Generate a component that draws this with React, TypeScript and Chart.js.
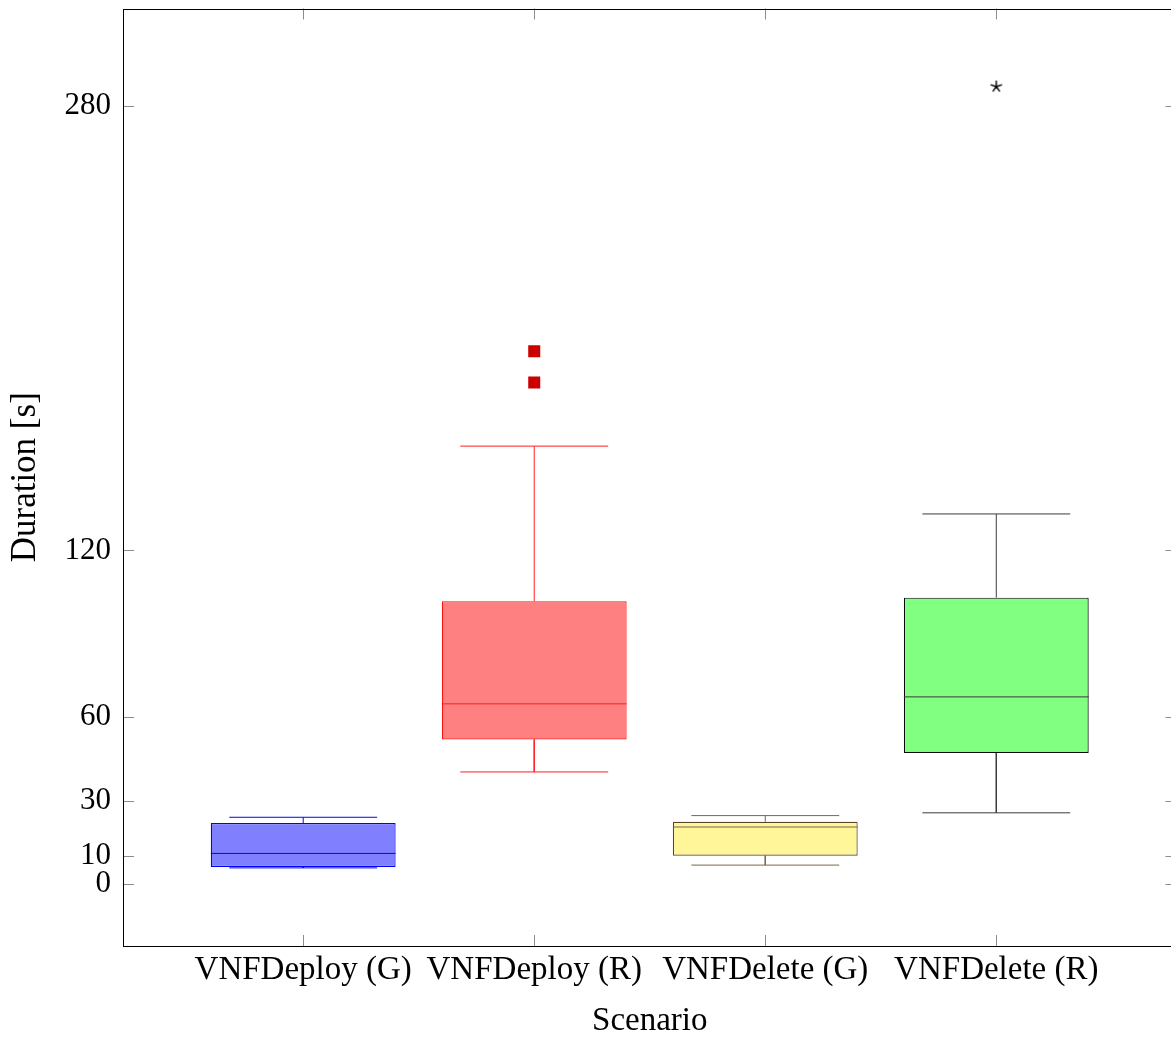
import React, { useEffect, useRef } from "react";
import { Chart, registerables } from "chart.js";

Chart.register(...registerables);

// ---- data ----
const categories = ["VNFDeploy (G)", "VNFDeploy (R)", "VNFDelete (G)", "VNFDelete (R)"];
const positions = [1, 2, 3, 4];
const lowerWhisker = [5.8, 40.3, 6.8, 25.6];
const lowerQuartile = [6.1, 52.0, 10.2, 47.1];
const median = [11.0, 64.8, 20.5, 67.3];
const upperQuartile = [21.9, 101.7, 22.4, 103.0];
const upperWhisker = [24.0, 157.5, 24.6, 133.1];
const outliersDeployR = [191.6, 180.4]; // at position 2
const outliersDeleteR = [286.8]; // at position 4
const yTicks = [0, 10, 30, 60, 120, 280];
const yMin = -22.3;
const yMax = 314.9;
const xMin = 0.22;
const xMax = 4.78;

// ---- styles ----
const boxFill = ["rgb(128,128,255)", "rgb(255,128,128)", "rgb(255,245,153)", "rgb(128,255,128)"];
const boxStroke = ["rgb(0,0,255)", "rgb(255,20,20)", "rgb(90,70,38)", "rgb(10,10,10)"];
const whiskerStroke = ["rgb(0,0,255)", "rgb(255,30,30)", "rgb(125,102,72)", "rgb(60,60,60)"];
const boxHalf = 0.4;
const capHalf = 0.32;
const FONT = "'Liberation Serif', 'Times New Roman', serif";
const CANVAS_W = 1185;
const CANVAS_H = 1039;

function whiskerData(i: number) {
  const x = positions[i];
  const gap = { x, y: null as any };
  return [
    { x, y: upperQuartile[i] }, { x, y: upperWhisker[i] }, gap,
    { x: x - capHalf, y: upperWhisker[i] }, { x: x + capHalf, y: upperWhisker[i] }, gap,
    { x, y: lowerQuartile[i] }, { x, y: lowerWhisker[i] }, gap,
    { x: x - capHalf, y: lowerWhisker[i] }, { x: x + capHalf, y: lowerWhisker[i] }, gap,
    { x: x - boxHalf, y: median[i] }, { x: x + boxHalf, y: median[i] },
  ];
}

function makeStar() {
  const c = document.createElement("canvas");
  c.width = 16;
  c.height = 16;
  const g = c.getContext("2d")!;
  g.strokeStyle = "#000";
  g.lineWidth = 1.4;
  g.beginPath();
  for (let k = 0; k < 5; k++) {
    const ang = -Math.PI / 2 + (k * 2 * Math.PI) / 5;
    g.moveTo(8, 8);
    g.lineTo(8 + 6 * Math.cos(ang), 8 + 6 * Math.sin(ang));
  }
  g.stroke();
  return c;
}

const framePlugin = {
  id: "pgfFrame",
  afterDatasetsDraw(chart: any) {
    const { ctx, chartArea: a, scales } = chart;
    const xs = scales.x;
    const ys = scales.y;
    const tl = 11;
    ctx.save();
    ctx.strokeStyle = "rgb(140,140,140)";
    ctx.lineWidth = 1;
    ctx.beginPath();
    for (const v of yTicks) {
      const py = Math.round(ys.getPixelForValue(v)) + 0.5;
      ctx.moveTo(a.left, py);
      ctx.lineTo(a.left + tl, py);
      ctx.moveTo(a.right, py);
      ctx.lineTo(a.right - tl, py);
    }
    for (const v of positions) {
      const px = Math.round(xs.getPixelForValue(v)) + 0.5;
      ctx.moveTo(px, a.bottom);
      ctx.lineTo(px, a.bottom - tl);
      ctx.moveTo(px, a.top);
      ctx.lineTo(px, a.top + tl);
    }
    ctx.stroke();
    ctx.strokeStyle = "#000";
    ctx.lineWidth = 1;
    ctx.strokeRect(
      Math.round(a.left) + 0.5,
      Math.round(a.top) + 0.5,
      Math.round(a.right) - Math.round(a.left),
      Math.round(a.bottom) - Math.round(a.top)
    );
    ctx.restore();
  },
};

export default function App() {
  const ref = useRef<HTMLCanvasElement | null>(null);

  useEffect(() => {
    if (!ref.current) return;
    const star = makeStar();
    const datasets: any[] = [];
    positions.forEach((_, i) => {
      datasets.push({
        type: "line",
        data: whiskerData(i),
        borderColor: whiskerStroke[i],
        borderWidth: 1,
        pointRadius: 0,
        spanGaps: false,
        fill: false,
        tension: 0,
        order: 1,
      });
    });
    datasets.push({
      type: "bar",
      data: positions.map((x, i) => ({ x, y: [lowerQuartile[i], upperQuartile[i]] })),
      backgroundColor: boxFill,
      borderColor: boxStroke,
      borderWidth: 1.2,
      borderSkipped: false,
      categoryPercentage: 1,
      barPercentage: 2 * boxHalf,
      order: 2,
    });
    datasets.push({
      type: "scatter",
      data: outliersDeployR.map((y) => ({ x: positions[1], y })),
      pointStyle: "rect",
      pointRadius: 8.5,
      backgroundColor: "rgb(204,0,0)",
      borderColor: "rgb(204,0,0)",
      borderWidth: 0,
      order: 0,
    });
    datasets.push({
      type: "scatter",
      data: outliersDeleteR.map((y) => ({ x: positions[3], y })),
      pointStyle: star,
      pointRadius: 6,
      order: 0,
    });

    const chart = new Chart(ref.current, {
      type: "bar",
      data: { datasets },
      options: {
        animation: false,
        responsive: false,
        maintainAspectRatio: false,
        layout: { padding: { left: 0, right: 0, top: 8, bottom: 0 } },
        plugins: { legend: { display: false }, tooltip: { enabled: false } },
        scales: {
          x: {
            type: "linear",
            min: xMin,
            max: xMax,
            offset: false,
            afterBuildTicks: (s: any) => {
              s.ticks = positions.map((v) => ({ value: v }));
            },
            afterFit: (s: any) => {
              s.height = 93;
              s.paddingLeft = 0;
              s.paddingRight = 0;
              s.paddingTop = 0;
              s.paddingBottom = 0;
            },
            grid: { display: false, drawTicks: false, offset: false },
            border: { display: false },
            ticks: {
              autoSkip: false,
              maxRotation: 0,
              minRotation: 0,
              padding: 5,
              color: "#000",
              font: { family: FONT, size: 33 },
              callback: (_v: any, idx: number) => categories[idx] ?? "",
            },
            title: {
              display: true,
              text: "Scenario",
              color: "#000",
              font: { family: FONT, size: 33 },
              padding: { top: 0, bottom: -2.5 },
            },
          },
          y: {
            type: "linear",
            min: yMin,
            max: yMax,
            afterBuildTicks: (s: any) => {
              s.ticks = yTicks.map((v) => ({ value: v }));
            },
            afterFit: (s: any) => {
              s.width = 123;
              s.paddingLeft = 0;
              s.paddingRight = 0;
              s.paddingTop = 0;
              s.paddingBottom = 0;
            },
            grid: { display: false, drawTicks: false },
            border: { display: false },
            ticks: {
              padding: 12,
              color: "#000",
              font: { family: FONT, size: 31 },
              callback: (v: any) => String(v),
            },
            title: {
              display: true,
              text: "Duration [s]",
              color: "#000",
              font: { family: FONT, size: 35 },
              padding: { top: 5, bottom: 0 },
            },
          },
        },
      },
      plugins: [framePlugin],
    } as any);

    return () => chart.destroy();
  }, []);

  return (
    <canvas
      ref={ref}
      width={CANVAS_W}
      height={CANVAS_H}
      style={{ position: "fixed", left: 0, top: 0, width: CANVAS_W, height: CANVAS_H, background: "#fff" }}
    />
  );
}
